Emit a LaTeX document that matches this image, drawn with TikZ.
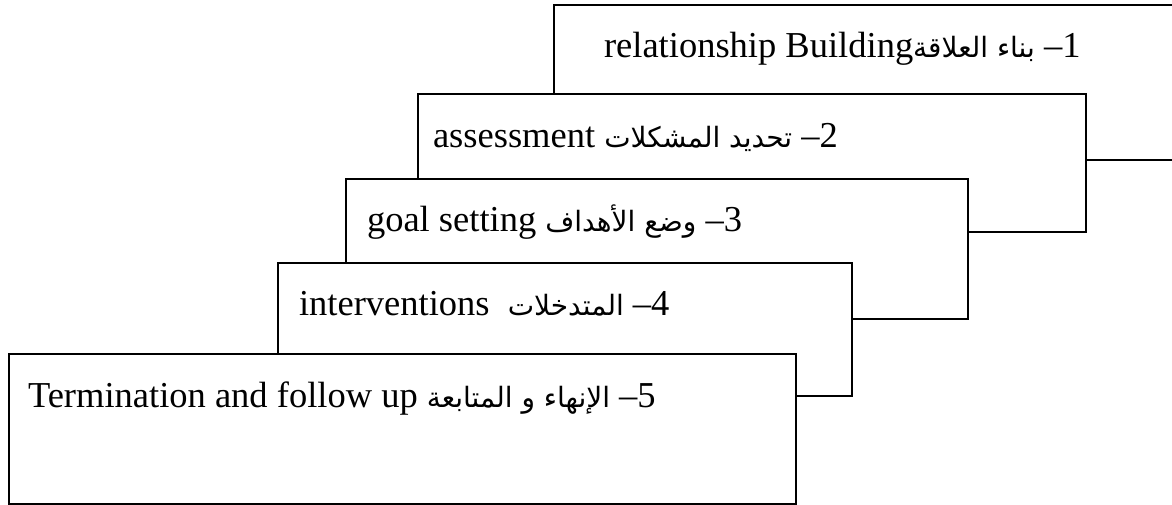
\documentclass[tikz,border=0pt]{standalone}
\usepackage{fontspec}
\setmainfont{Liberation Serif}
\newfontfamily\arabicfont[Script=Arabic]{DejaVu Sans}
\TeXXeTstate=1
\newcommand{\ar}[1]{{\arabicfont\fontsize{28}{32}\selectfont\beginR #1\endR}}
\begin{document}
\begin{tikzpicture}[x=1pt,y=-1pt,
  card/.style={draw=black, line width=1.6pt, fill=white, rectangle,
    inner sep=0pt, outer sep=0pt, anchor=north west},
  steptext/.style={anchor=base west, inner sep=0pt, outer sep=0pt,
    font=\fontsize{36.5}{40}\selectfont}]
\useasboundingbox (0,0) rectangle (1172,504);
\clip (0,0) rectangle (1172,504);

% stacked cards, each one laid over the previous
\node[card, minimum width=660, minimum height=155] (c1) at (554,5) {};
\node[card, minimum width=668, minimum height=138] (c2) at (418,94) {};
\node[card, minimum width=622, minimum height=140] (c3) at (346,179) {};
\node[card, minimum width=574, minimum height=133] (c4) at (278,263) {};
\node[card, minimum width=787, minimum height=150] (c5) at (9,354) {};

% step captions
\node[steptext] (t1) at (604,57) {relationship Building\ar{بناء العلاقة} –1};
\node[steptext] (t2) at (433,147) {assessment \ar{تحديد المشكلات} –2};
\node[steptext] (t3) at (367,231) {goal setting \ar{وضع الأهداف} –3};
\node[steptext] (t4) at (299,315) {interventions\ \ \ar{المتدخلات} –4};
\node[steptext] (t5) at (28,407) {Termination and follow up \ar{الإنهاء و المتابعة} –5};
\end{tikzpicture}
\end{document}
